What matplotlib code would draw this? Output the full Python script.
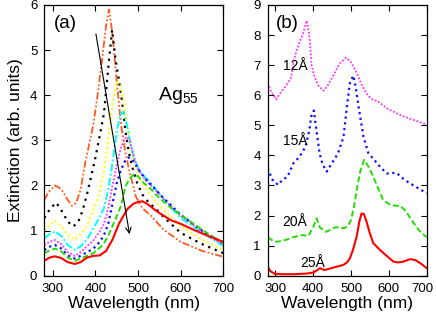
#!/usr/bin/env python

# Ag55 extinction spectra: (a) size series, (b) inter-particle distance series

import matplotlib
matplotlib.use("Agg")
import matplotlib.pyplot as plt
import matplotlib.transforms as mtransforms

plt.rcParams['font.family'] = ['Liberation Sans', 'DejaVu Sans']
plt.rcParams['mathtext.default'] = 'regular'

# ---- panel (a) ----
wl_orange = [280, 290, 305, 320, 335, 345, 355, 365, 375, 385, 395, 405, 415, 425, 432, 440, 450, 460, 470, 480, 495, 510, 530, 560, 600, 650, 700]
ext_orange = [1.68, 1.85, 2.0, 1.92, 1.68, 1.55, 1.62, 1.9, 2.45, 2.9, 3.35, 4.0, 4.75, 5.55, 5.9, 5.35, 4.3, 3.35, 2.75, 2.3, 1.75, 1.5, 1.33, 1.02, 0.75, 0.55, 0.42]

wl_black = [280, 295, 308, 320, 335, 348, 360, 370, 380, 390, 400, 410, 420, 430, 439, 447, 455, 463, 470, 478, 486, 498, 510, 525, 540, 560, 600, 650, 700]
ext_black = [1.28, 1.5, 1.62, 1.45, 1.2, 1.09, 1.2, 1.45, 1.8, 2.2, 2.62, 3.1, 3.6, 4.6, 5.45, 4.8, 4.34, 3.82, 3.23, 2.75, 2.42, 2.05, 1.8, 1.62, 1.5, 1.3, 0.95, 0.7, 0.5]

wl_yellow = [280, 292, 305, 320, 335, 352, 365, 380, 395, 410, 420, 430, 440, 450, 458, 465, 475, 485, 500, 520, 550, 600, 650, 700]
ext_yellow = [1.0, 1.12, 1.22, 1.1, 0.9, 0.8, 0.92, 1.1, 1.45, 1.85, 2.35, 3.0, 3.8, 4.3, 4.25, 3.95, 3.3, 2.7, 2.25, 1.9, 1.55, 1.1, 0.8, 0.57]

wl_cyan = [280, 292, 305, 320, 335, 352, 365, 380, 395, 410, 420, 430, 440, 450, 458, 464, 470, 480, 490, 505, 530, 560, 600, 650, 700]
ext_cyan = [0.83, 0.92, 0.98, 0.88, 0.68, 0.57, 0.65, 0.8, 1.05, 1.3, 1.5, 1.9, 2.5, 3.2, 3.55, 3.64, 3.5, 3.05, 2.6, 2.3, 2.05, 1.7, 1.28, 0.95, 0.66]

wl_magenta = [280, 292, 305, 320, 335, 352, 365, 380, 395, 410, 420, 430, 440, 450, 460, 467, 473, 480, 490, 500, 515, 535, 560, 600, 650, 700]
ext_magenta = [0.68, 0.75, 0.79, 0.7, 0.52, 0.44, 0.52, 0.65, 0.78, 0.98, 1.15, 1.5, 2.0, 2.45, 2.85, 3.0, 3.08, 3.0, 2.65, 2.35, 2.15, 1.95, 1.7, 1.33, 0.98, 0.68]

wl_blue = [280, 292, 305, 320, 335, 352, 365, 380, 395, 410, 420, 430, 440, 450, 460, 470, 478, 485, 495, 505, 520, 540, 560, 600, 650, 700]
ext_blue = [0.57, 0.64, 0.68, 0.6, 0.45, 0.38, 0.44, 0.52, 0.6, 0.75, 0.9, 1.15, 1.6, 2.05, 2.35, 2.55, 2.62, 2.6, 2.45, 2.3, 2.12, 1.92, 1.72, 1.35, 1.0, 0.72]

wl_green = [280, 292, 305, 320, 335, 352, 365, 380, 395, 410, 420, 430, 440, 450, 460, 470, 480, 490, 500, 514, 530, 550, 575, 600, 650, 700]
ext_green = [0.5, 0.56, 0.6, 0.54, 0.4, 0.33, 0.38, 0.44, 0.5, 0.62, 0.72, 0.88, 1.1, 1.32, 1.55, 1.97, 2.15, 2.25, 2.2, 2.05, 1.92, 1.72, 1.52, 1.35, 1.02, 0.72]

wl_red = [280, 292, 305, 320, 335, 352, 365, 380, 395, 410, 425, 440, 455, 475, 490, 502, 510, 520, 530, 545, 560, 577, 600, 632, 665, 700]
ext_red = [0.33, 0.4, 0.43, 0.39, 0.3, 0.26, 0.3, 0.4, 0.44, 0.45, 0.55, 0.8, 1.15, 1.48, 1.6, 1.64, 1.65, 1.6, 1.53, 1.42, 1.33, 1.23, 1.15, 1.01, 0.88, 0.75]

# ---- panel (b) ----
wl_12 = [280, 290, 302, 315, 330, 342, 352, 362, 372, 383, 390, 396, 404, 415, 428, 440, 455, 470, 487, 500, 515, 530, 545, 558, 573, 595, 630, 665, 700]
ext_12 = [6.40, 6.1, 5.86, 6.1, 6.35, 6.6, 7.3, 7.7, 8.0, 8.48, 8.0, 7.0, 6.6, 6.3, 6.15, 6.35, 6.7, 7.05, 7.25, 7.1, 6.75, 6.3, 5.98, 5.85, 5.78, 5.56, 5.34, 5.18, 5.02]

wl_15 = [280, 292, 307, 320, 332, 348, 360, 370, 380, 390, 395, 402, 408, 417, 425, 436, 450, 465, 480, 490, 497, 506, 512, 520, 533, 546, 558, 577, 594, 620, 640, 656, 700]
ext_15 = [3.57, 3.2, 3.02, 3.2, 3.28, 3.74, 3.9, 4.07, 4.3, 4.84, 5.3, 5.49, 4.9, 4.07, 3.7, 3.46, 3.75, 4.05, 4.6, 5.7, 6.4, 6.65, 6.3, 5.62, 4.62, 4.07, 3.9, 3.62, 3.40, 3.42, 3.2, 3.07, 2.74]

wl_20 = [280, 295, 307, 325, 348, 362, 372, 387, 400, 409, 418, 434, 445, 458, 470, 482, 492, 500, 508, 515, 525, 535, 545, 559, 572, 585, 600, 615, 630, 645, 660, 680, 700]
ext_20 = [1.28, 1.15, 1.13, 1.18, 1.28, 1.33, 1.35, 1.32, 1.6, 1.91, 1.6, 1.46, 1.52, 1.61, 1.6, 1.58, 1.65, 1.85, 2.3, 2.85, 3.5, 3.85, 3.65, 3.29, 2.9, 2.52, 2.38, 2.33, 2.32, 2.15, 1.85, 1.5, 1.28]

wl_25 = [280, 287, 299, 320, 350, 380, 400, 410, 418, 430, 445, 462, 480, 490, 497, 505, 515, 522, 528, 534, 541, 550, 559, 577, 595, 612, 625, 638, 656, 670, 685, 700]
ext_25 = [0.30, 0.15, 0.06, 0.05, 0.05, 0.07, 0.1, 0.18, 0.25, 0.19, 0.24, 0.30, 0.36, 0.45, 0.58, 0.85, 1.30, 1.8, 2.07, 2.05, 1.80, 1.4, 1.08, 0.85, 0.65, 0.47, 0.44, 0.47, 0.55, 0.52, 0.4, 0.25]

fig = plt.figure(figsize=(4.36, 3.18), dpi=100)
ax1 = fig.add_axes([0.1016, 0.1330, 0.4106, 0.8513])
ax2 = fig.add_axes([0.6140, 0.1330, 0.3647, 0.8513])

# left panel curves
ax1.plot(wl_orange, ext_orange, color='#ff5a1f', lw=1.3, ls=(0, (4, 1.2, 1, 1.2, 1, 1.2)))
ax1.plot(wl_black, ext_black, color='black', lw=1.6, ls=(0, (1, 2.2)))
ax1.plot(wl_yellow, ext_yellow, color='#ffff00', lw=1.4, ls=(0, (1, 1.5)))
ax1.plot(wl_cyan, ext_cyan, color='#00ffff', lw=1.4, ls=(0, (4, 1.2, 1, 1.2)))
ax1.plot(wl_magenta, ext_magenta, color='#ff33ff', lw=1.3, ls=(0, (1, 1)))
ax1.plot(wl_blue, ext_blue, color='#1010ff', lw=1.6, ls=(0, (1, 1.6)))
ax1.plot(wl_green, ext_green, color='#22dd00', lw=1.4, ls=(0, (3, 1.5)))
ax1.plot(wl_red, ext_red, color='#ff0000', lw=1.5)

ax1.annotate('', xy=(481, 0.86), xytext=(400, 5.42),
             arrowprops=dict(arrowstyle='->', lw=0.8, color='black'))

ax1.text(302, 5.58, '(a)', fontsize=13.5, va='center')
ax1.text(547, 4.0, 'Ag$_{55}$', fontsize=14, va='center')

ax1.set_xlim(280, 700)
ax1.set_ylim(0, 6)
ax1.set_yticks(range(0, 7))
ax1.set_xticks([300, 400, 500, 600, 700])
ax1.set_xlabel('Wavelength (nm)', fontsize=12.5, labelpad=1)
ax1.set_ylabel('Extinction (arb. units)', fontsize=12.5, labelpad=5)

# right panel curves
ax2.plot(wl_12, ext_12, color='#ff33ff', lw=1.3, ls=(0, (1, 1)))
ax2.plot(wl_15, ext_15, color='#1010ff', lw=1.6, ls=(0, (1, 1.6)))
ax2.plot(wl_20, ext_20, color='#22dd00', lw=1.4, ls=(0, (3, 1.5)))
ax2.plot(wl_25, ext_25, color='#ff0000', lw=1.5)

ax2.text(302, 8.38, '(b)', fontsize=13.5, va='center')
ax2.text(352, 6.97, '12Å', fontsize=10, ha='center', va='center')
ax2.text(352, 4.48, '15Å', fontsize=10, ha='center', va='center')
ax2.text(352, 1.78, '20Å', fontsize=10, ha='center', va='center')
ax2.text(400, 0.42, '25Å', fontsize=10, ha='center', va='center')

ax2.set_xlim(280, 700)
ax2.set_ylim(0, 9)
ax2.set_yticks(range(0, 10))
ax2.set_xticks([300, 400, 500, 600, 700])
ax2.set_xlabel('Wavelength (nm)', fontsize=12.5, labelpad=1)

for ax in (ax1, ax2):
    ax.tick_params(direction='in', top=True, right=True, length=4, width=0.8, labelsize=9.5, pad=5)
    for sp in ax.spines.values():
        sp.set_linewidth(0.9)

# keep the last "700" inside the figure edge
shift = mtransforms.ScaledTranslation(-3 / 72, 0, fig.dpi_scale_trans)
last = ax2.get_xticklabels()[-1]
last.set_transform(last.get_transform() + shift)

plt.savefig('out.png', dpi=100)
